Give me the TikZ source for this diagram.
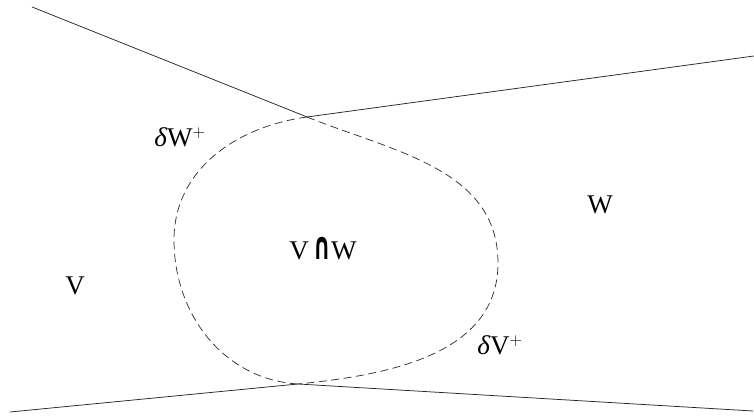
\documentclass[tikz,border=0pt]{standalone}
\usepackage{fontspec}
\setmainfont{Liberation Serif}
\newfontfamily\symfont{DejaVu Sans}
\usepackage{amsmath,amssymb}
\usetikzlibrary{positioning}
\tikzset{bound/.style={line width=.75pt,black!85},
 seam/.style={line width=.75pt,black!80,dash pattern=on 8pt off 4.5pt},
 region/.style={font=\fontsize{27}{32}\selectfont,inner sep=0pt}}

\begin{document}
\begin{tikzpicture}[x=1pt,y=1pt]
\useasboundingbox (0,0) rectangle (754,417);
% where the two boundaries cross
\coordinate (top) at (307,300);
\coordinate (bot) at (298,33);
% outer ends of the solid parts
\coordinate (vtop) at (32,410);
\coordinate (vbot) at (10,5);
\coordinate (wtop) at (754,361);
\coordinate (wbot) at (753,6);
% extreme points of the dashed parts
\coordinate (vbulge) at (498,154);
\coordinate (wbulge) at (174,177);

\draw[bound] (vtop) -- (top);
\draw[bound] (wtop) -- (top);
\draw[bound] (vbot) -- (bot);
\draw[bound] (wbot) -- (bot);
\draw[seam] (top) to[out=-21.8,in=90] (vbulge) to[out=-90,in=5.7] (bot);
\draw[seam] (top) to[out=187.8,in=90] (wbulge) to[out=-90,in=176.5] (bot);

\node[region] (dW) at (180,280) {\textit{δ}W$^{+}$};
\node[region] (dV) at (500,72) {\textit{δ}V$^{+}$};
\node[region] (VW) at (323,168) {V\,\scalebox{0.9}[1.6]{\symfont\bfseries\fontsize{24}{28}\selectfont ∩}W};
\node[region] (V) at (75,131) {V};
\node[region] (W) at (600,212) {W};
\end{tikzpicture}
\end{document}
